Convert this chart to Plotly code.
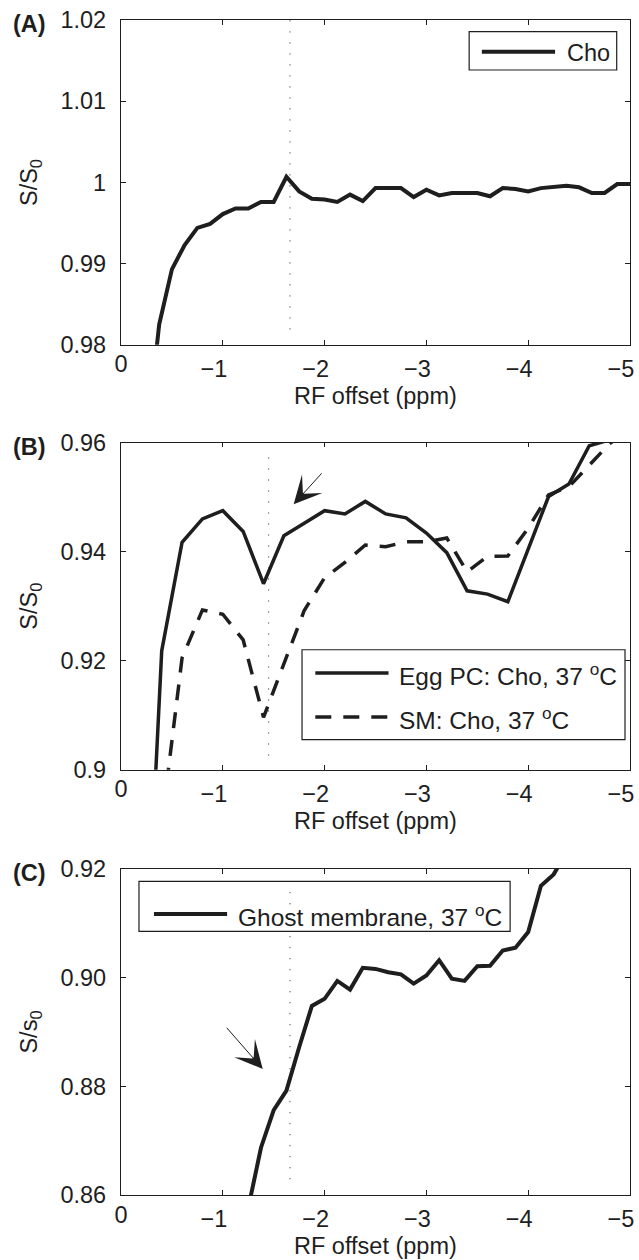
import plotly.graph_objects as go

# ---- data (RF offset in ppm, S/S0) ----
# (A) Cho
offset_a = [-0.25, -0.375, -0.5, -0.625, -0.75, -0.875, -1.0, -1.125, -1.25, -1.375,
            -1.5, -1.625, -1.75, -1.875, -2.0, -2.125, -2.25, -2.375, -2.5, -2.625,
            -2.75, -2.875, -3.0, -3.125, -3.25, -3.375, -3.5, -3.625, -3.75, -3.875,
            -4.0, -4.125, -4.25, -4.375, -4.5, -4.625, -4.75, -4.875, -5.0]
cho_a = [0.968, 0.9825, 0.9893, 0.9923, 0.9944, 0.9949, 0.9961, 0.9968, 0.9968, 0.9976,
         0.9976, 1.0007, 0.9989, 0.9980, 0.9979, 0.9976, 0.9985, 0.9977, 0.9993, 0.9993,
         0.9993, 0.9982, 0.9991, 0.9984, 0.9987, 0.9987, 0.9987, 0.9983, 0.9993, 0.9992,
         0.9989, 0.9993, 0.9995, 0.9996, 0.9994, 0.9987, 0.9987, 0.9998, 0.9998]

# (B) Egg PC vs SM
offset_b = [-0.2, -0.4, -0.6, -0.8, -1.0, -1.2, -1.4, -1.6, -1.8, -2.0, -2.2, -2.4, -2.6,
            -2.8, -3.0, -3.2, -3.4, -3.6, -3.8, -4.0, -4.2, -4.4, -4.6, -4.8, -5.0]
egg_pc = [0.846, 0.9218, 0.9417, 0.9460, 0.9475, 0.9437, 0.9341, 0.9429, 0.9452, 0.9475,
          0.9469, 0.9492, 0.9469, 0.9462, 0.9434, 0.9398, 0.9328, 0.9322, 0.9308, 0.9405,
          0.9501, 0.9524, 0.9594, 0.9605, 0.9630]
sm = [0.800, 0.890, 0.9205, 0.9293, 0.9285, 0.9238, 0.9096, 0.9195, 0.9292, 0.9352,
      0.9380, 0.9412, 0.9409, 0.9418, 0.9418, 0.9425, 0.9363, 0.9391, 0.9392, 0.9443,
      0.9504, 0.9519, 0.9559, 0.9598, 0.9625]

# (C) ghost membrane
offset_c = [-1.25, -1.375, -1.5, -1.625, -1.75, -1.875, -2.0, -2.125, -2.25, -2.375,
            -2.5, -2.625, -2.75, -2.875, -3.0, -3.125, -3.25, -3.375, -3.5, -3.625,
            -3.75, -3.875, -4.0, -4.125, -4.25, -4.375]
ghost = [0.8576, 0.8687, 0.8756, 0.8792, 0.8872, 0.8948, 0.8961, 0.8994, 0.8978, 0.9018,
         0.9016, 0.9010, 0.9006, 0.8989, 0.9004, 0.9032, 0.8998, 0.8994, 0.9021, 0.9022,
         0.9050, 0.9055, 0.9084, 0.9169, 0.9190, 0.9230]

# dotted markers: offset, y start, y end
mark_a = [-1.66, 0.9819, 1.02]
mark_b = [-1.45, 0.9026, 0.9584]
mark_c = [-1.66, 0.8629, 0.9163]

xtick_vals = [-1, -2, -3, -4, -5]
xtick_text = ["\u22121", "\u22122", "\u22123", "\u22124", "\u22125"]
ytick_a = [0.98, 0.99, 1.0, 1.01, 1.02]
ytext_a = ["0.98", "0.99", "1", "1.01", "1.02"]
ytick_b = [0.90, 0.92, 0.94, 0.96]
ytext_b = ["0.9", "0.92", "0.94", "0.96"]
ytick_c = [0.86, 0.88, 0.90, 0.92]
ytext_c = ["0.86", "0.88", "0.90", "0.92"]

# ---- layout geometry in pixels ----
W, H = 639, 1260
L, R, T, B = 120.5, 9, 20, 64.5
pw = W - L - R
ph = H - T - B


def px(x):
    return (x - L) / pw


def py(y):
    return (H - B - y) / ph


panels = {"A": (20, 345), "B": (442.7, 770), "C": (869.3, 1195.5)}
INK = "#1e1e1e"
FONT = "Liberation Sans"
FS = 23.5
DASH = "16px,12px"

fig = go.Figure()
fig.add_trace(go.Scatter(x=offset_a, y=cho_a, mode="lines", xaxis="x", yaxis="y",
                         line=dict(color=INK, width=4), showlegend=False))
fig.add_trace(go.Scatter(x=offset_b, y=egg_pc, mode="lines", xaxis="x2", yaxis="y2",
                         line=dict(color=INK, width=3.5), showlegend=False))
fig.add_trace(go.Scatter(x=offset_b, y=sm, mode="lines", xaxis="x2", yaxis="y2",
                         line=dict(color=INK, width=3.5, dash=DASH), showlegend=False))
fig.add_trace(go.Scatter(x=offset_c, y=ghost, mode="lines", xaxis="x3", yaxis="y3",
                         line=dict(color=INK, width=4), showlegend=False))
# empty traces so the overlay axes carrying the "0" label get drawn
for i, ya in enumerate(["y", "y2", "y3"]):
    fig.add_trace(go.Scatter(x=[None], y=[None], mode="lines", xaxis="x" + str(i + 4),
                             yaxis=ya, showlegend=False, hoverinfo="skip"))

axis_common = dict(showline=True, mirror="ticks", linecolor=INK, linewidth=1.3,
                   ticks="inside", ticklen=4.5, tickwidth=1, tickcolor=INK,
                   showgrid=False, zeroline=False, automargin=False,
                   tickfont=dict(family=FONT, size=FS, color=INK))

layout = dict(template="none", width=W, height=H, margin=dict(l=L, r=R, t=T, b=B),
              plot_bgcolor="white", paper_bgcolor="white",
              font=dict(family=FONT, size=FS, color=INK))
yinfo = [(ytick_a, ytext_a, [0.98, 1.02]), (ytick_b, ytext_b, [0.90, 0.96]),
         (ytick_c, ytext_c, [0.86, 0.92])]
for i, key in enumerate(["A", "B", "C"]):
    top, bot = panels[key]
    sfx = "" if i == 0 else str(i + 1)
    # minus-sign labels hang left of their tick, as in the original
    # (axis is reversed, so a positive shift moves the labels to the left)
    layout["xaxis" + sfx] = dict(axis_common, domain=[0, 1], range=[0, -5],
                                 tickvals=xtick_vals, ticktext=xtick_text,
                                 anchor="y" + sfx, ticklabelstandoff=3,
                                 ticklabelshift=9)
    # separate overlay axis just for the centred "0" label
    layout["xaxis" + str(i + 4)] = dict(overlaying="x" + sfx, anchor="y" + sfx,
                                        domain=[0, 1], range=[0, -5], tickvals=[0],
                                        ticktext=["0"], showline=False, ticks="",
                                        showgrid=False, zeroline=False,
                                        automargin=False, ticklabelstandoff=3,
                                        tickfont=dict(family=FONT, size=FS, color=INK))
    tv, tt, rg = yinfo[i]
    layout["yaxis" + sfx] = dict(axis_common, domain=[py(bot), py(top)], range=rg,
                                 tickvals=tv, ticktext=tt, anchor="x" + sfx,
                                 ticklabelstandoff=9)
fig.update_layout(**layout)

# dotted vertical markers
for i, m in enumerate([mark_a, mark_b, mark_c]):
    sfx = "" if i == 0 else str(i + 1)
    fig.add_shape(type="line", xref="x" + sfx, yref="y" + sfx, x0=m[0], x1=m[0],
                  y0=m[1], y1=m[2], line=dict(color=INK, width=1, dash="1px,10px"))

ann = []
# panel letters, axis titles
for key, ytitle in [("A", "S/S<sub>0</sub>"), ("B", "S/S<sub>0</sub>"), ("C", "S/s<sub>0</sub>")]:
    top, bot = panels[key]
    ann.append(dict(text="<b>(%s)</b>" % key, x=px(28.5), y=py(top + 4), xref="paper",
                    yref="paper", showarrow=False, xanchor="center", yanchor="middle",
                    font=dict(size=FS)))
    ann.append(dict(text=ytitle, x=px(30), y=py((top + bot) / 2), xref="paper",
                    yref="paper", showarrow=False, textangle=-90, xanchor="center",
                    yanchor="middle", font=dict(size=FS)))
    ann.append(dict(text="RF offset (ppm)", x=0.5, y=py(bot + 51), xref="paper",
                    yref="paper", showarrow=False, xanchor="center", yanchor="middle",
                    font=dict(size=FS)))

# arrows
ann.append(dict(x=-1.696, y=0.9487, xref="x2", yref="y2", ax=29.4, ay=-32.3,
                text="", showarrow=True, arrowhead=3, arrowsize=4.6, arrowwidth=1,
                arrowcolor=INK, standoff=0))
ann.append(dict(x=-1.392, y=0.8832, xref="x3", yref="y3", ax=-37.3, ay=-42.6,
                text="", showarrow=True, arrowhead=3, arrowsize=4.6, arrowwidth=1,
                arrowcolor=INK, standoff=0))

# legends drawn by hand (box, sample line, label)
legend_boxes = [(469, 31.7, 616.7, 70), (301.7, 650, 625, 740), (138.5, 881.7, 510, 931.7)]
for x0, y0, x1, y1 in legend_boxes:
    fig.add_shape(type="rect", xref="paper", yref="paper", x0=px(x0), x1=px(x1),
                  y0=py(y1), y1=py(y0), line=dict(color=INK, width=1.2))

samples = [(481.7, 555, 51.7, 4, None, "Cho", 565, FS),
           (315, 388.3, 673.3, 3.5, None, "Egg PC: Cho, 37 <sup>o</sup>C", 396.7, 24.5),
           (315, 388.3, 717.3, 3.5, DASH, "SM: Cho, 37 <sup>o</sup>C", 396.7, 24.5),
           (153.5, 226.7, 914.5, 4, None, "Ghost membrane, 37 <sup>o</sup>C", 236, 24.5)]
for x0, x1, yy, w, d, label, tx, fs in samples:
    fig.add_shape(type="line", xref="paper", yref="paper", x0=px(x0), x1=px(x1),
                  y0=py(yy), y1=py(yy), line=dict(color=INK, width=w, dash=d))
    ann.append(dict(text=label, x=px(tx), y=py(yy + 1), xref="paper", yref="paper",
                    showarrow=False, xanchor="left", yanchor="middle",
                    font=dict(size=fs)))

fig.update_layout(annotations=ann)
# the page body has a default 8px margin; drop it so the 639x1260 figure fills the window
fig.write_html("out.html", config={"displayModeBar": False},
               post_script="document.body.style.margin='0';")
